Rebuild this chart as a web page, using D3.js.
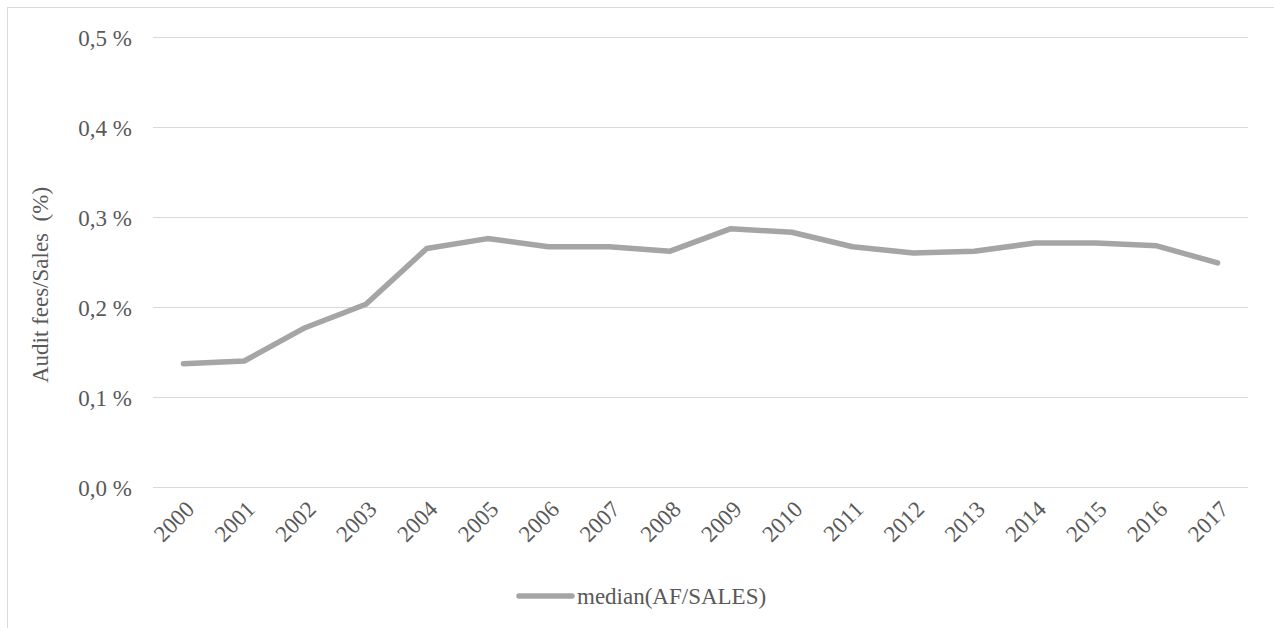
<!DOCTYPE html>
<html>
<head>
<meta charset="utf-8">
<script src="https://cdn.jsdelivr.net/npm/d3@7"></script>
<style>
  html, body { margin: 0; padding: 0; background: #ffffff; }
  svg { display: block; }
  svg text { font-family: "Liberation Serif", "Tinos", "Times New Roman", "DejaVu Serif", serif; fill: #595959; }
</style>
</head>
<body>
<svg id="chart" width="1274" height="628"></svg>
<script>
const years = ["2000","2001","2002","2003","2004","2005","2006","2007","2008","2009","2010","2011","2012","2013","2014","2015","2016","2017"];
const medianAFSales = [0.137,0.140,0.177,0.203,0.265,0.276,0.267,0.267,0.262,0.287,0.283,0.267,0.260,0.262,0.271,0.271,0.268,0.249];
const yTicks = [0, 0.1, 0.2, 0.3, 0.4, 0.5];
const seriesName = "median(AF/SALES)";
const yTitle = "Audit fees/Sales  (%)";

const svg = d3.select("#chart");
const W = 1274, H = 628;
const FS = "23px";

svg.append("rect")
  .attr("x", 7.5).attr("y", 7.5)
  .attr("width", W + 10).attr("height", H + 10)
  .attr("fill", "#ffffff").attr("stroke", "#d9d9d9").attr("stroke-width", 1);

const plot = { left: 153, right: 1248, top: 37, bottom: 487 };

const x = d3.scalePoint().domain(years).range([plot.left, plot.right]).padding(0.5);
const y = d3.scaleLinear().domain([0, 0.5]).range([plot.bottom, plot.top]);

const yAxis = d3.axisLeft(y).tickValues(yTicks)
  .tickSize(-(plot.right - plot.left))
  .tickFormat(d => d3.format(".1f")(d).replace(".", ",") + " %");
const gy = svg.append("g").attr("transform", `translate(${plot.left},0)`).call(yAxis)
  .attr("font-family", null).attr("font-size", null);
gy.select(".domain").remove();
gy.selectAll(".tick line").attr("stroke", "#d9d9d9").attr("stroke-width", 1);
gy.selectAll(".tick text")
  .attr("x", -21).attr("dy", "0.35em")
  .style("font-size", FS)
  .attr("fill", "#595959");

const xAxis = d3.axisBottom(x).tickSize(0);
const gx = svg.append("g").attr("transform", `translate(0,${plot.bottom})`).call(xAxis)
  .attr("font-family", null).attr("font-size", null);
gx.select(".domain").remove();
gx.selectAll(".tick text")
  .attr("text-anchor", "end")
  .attr("transform", "translate(6,18) rotate(-45)")
  .attr("x", 0).attr("y", 0).attr("dy", "0.35em")
  .style("font-size", FS)
  .attr("fill", "#595959");

const line = d3.line().x((d, i) => x(years[i])).y(d => y(d));
svg.append("path")
  .datum(medianAFSales)
  .attr("d", line)
  .attr("fill", "none")
  .attr("stroke", "#a5a5a5")
  .attr("stroke-width", 5.5)
  .attr("stroke-linejoin", "round")
  .attr("stroke-linecap", "round");

svg.append("text")
  .attr("transform", `translate(48,285) rotate(-90)`)
  .attr("text-anchor", "middle")
  .style("font-size", FS)
  .style("white-space", "pre")
  .text(yTitle);

const lg = svg.append("g").attr("transform", "translate(519,596)");
lg.append("line").attr("x1", 0).attr("x2", 53).attr("y1", 0).attr("y2", 0)
  .attr("stroke", "#a5a5a5").attr("stroke-width", 5.5).attr("stroke-linecap", "round");
lg.append("text").attr("x", 58).attr("y", 0).attr("dy", "0.35em")
  .style("font-size", FS)
  .text(seriesName);
</script>
</body>
</html>
